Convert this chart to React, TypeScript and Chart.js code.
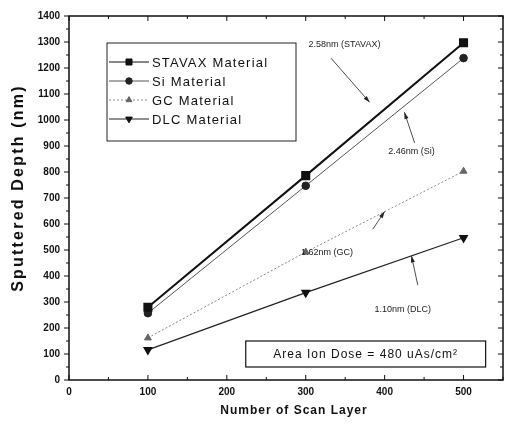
import React, { useEffect, useRef } from "react";
import { Chart, registerables } from "chart.js";
import { drawPoint } from "chart.js/helpers";

Chart.register(...registerables);

const scanLayers = [100, 300, 500];
const stavax = [280, 786, 1297];
const si = [257, 747, 1238];
const gc = [162, 492, 803];
const dlc = [116, 336, 547];

const seriesNames = ["STAVAX Material", "Si Material", "GC Material", "DLC Material"];
const xTicks = [0, 100, 200, 300, 400, 500];
const yTicks = [0, 100, 200, 300, 400, 500, 600, 700, 800, 900, 1000, 1100, 1200, 1300, 1400];

// annotations in data coordinates: label position, arrow tail, arrow head
const annotations = [
  { text: "2.58nm (STAVAX)", x: 349, y: 1290, fx: 332, fy: 1238, tx: 381, ty: 1068 },
  { text: "2.46nm (Si)", x: 434, y: 877, fx: 438, fy: 912, tx: 425, ty: 1030 },
  { text: "1.62nm (GC)", x: 327, y: 492, fx: 385, fy: 580, tx: 400, ty: 648 },
  { text: "1.10nm (DLC)", x: 423, y: 273, fx: 442, fy: 365, tx: 434, ty: 478 },
];
const doseText = "Area Ion Dose = 480 uAs/cm²";
const doseBox = { x0: 224, x1: 528, y0: 150, y1: 50 };
const xTitle = "Number of Scan Layer";
const yTitle = "Sputtered Depth (nm)";

export default function App() {
  const ref = useRef<HTMLCanvasElement | null>(null);
  useEffect(() => {
    document.body.style.margin = "0";
    const canvas = ref.current!;
    const font = "'Liberation Sans', Arial, sans-serif";

    const framePlugin = {
      id: "frame",
      afterDraw(chart: any) {
        const ctx = chart.ctx as CanvasRenderingContext2D;
        const a = chart.chartArea;
        const xs = chart.scales.x;
        const ys = chart.scales.y;
        ctx.save();
        ctx.strokeStyle = "#111";
        ctx.lineWidth = 1.5;
        ctx.strokeRect(a.left, a.top, a.right - a.left, a.bottom - a.top);
        ctx.lineWidth = 1;
        for (let v = 0; v <= 550; v += 50) {
          const px = xs.getPixelForValue(v);
          const len = v % 100 === 0 ? 5 : 3;
          ctx.beginPath();
          ctx.moveTo(px, a.bottom);
          ctx.lineTo(px, a.bottom - len);
          ctx.moveTo(px, a.top);
          ctx.lineTo(px, a.top + len);
          ctx.stroke();
        }
        for (let v = 0; v <= 1400; v += 50) {
          const py = ys.getPixelForValue(v);
          const len = v % 100 === 0 ? 5 : 3;
          ctx.beginPath();
          ctx.moveTo(a.left, py);
          ctx.lineTo(a.left - len, py);
          ctx.moveTo(a.right, py);
          ctx.lineTo(a.right - len, py);
          ctx.stroke();
        }
        // axis titles
        (ctx as any).letterSpacing = "1px";
        ctx.fillStyle = "#111";
        ctx.font = `bold 12px ${font}`;
        ctx.textAlign = "center";
        ctx.textBaseline = "middle";
        ctx.fillText(xTitle, (a.left + a.right) / 2 + 8, 411);
        ctx.save();
        ctx.translate(19, (a.top + a.bottom) / 2 - 10);
        ctx.rotate(-Math.PI / 2);
        (ctx as any).letterSpacing = "2.2px";
        ctx.font = `bold 16px ${font}`;
        ctx.fillText(yTitle, 0, 0);
        ctx.restore();

        // legend box
        const lx0 = 107, ly0 = 43, lx1 = 296, ly1 = 141;
        ctx.fillStyle = "#fff";
        ctx.fillRect(lx0, ly0, lx1 - lx0, ly1 - ly0);
        ctx.strokeStyle = "#222";
        ctx.lineWidth = 1;
        ctx.strokeRect(lx0, ly0, lx1 - lx0, ly1 - ly0);
        const rows = [62, 81, 100, 119];
        chart.data.datasets.forEach((ds: any, i: number) => {
          const y = rows[i];
          ctx.save();
          ctx.strokeStyle = ds.borderColor;
          ctx.lineWidth = Math.min(ds.borderWidth, 1.2);
          ctx.setLineDash(ds.borderDash || []);
          ctx.beginPath();
          ctx.moveTo(109, y);
          ctx.lineTo(149, y);
          ctx.stroke();
          ctx.restore();
          ctx.save();
          ctx.fillStyle = ds.pointBackgroundColor;
          ctx.strokeStyle = ds.pointBorderColor;
          ctx.lineWidth = 1;
          drawPoint(ctx, { pointStyle: ds.pointStyle, radius: ds.pointRadius * 0.85, rotation: ds.pointRotation || 0, borderWidth: 1 } as any, 129, y);
          ctx.restore();
          ctx.fillStyle = "#111";
          ctx.font = `13px ${font}`;
          (ctx as any).letterSpacing = "1.2px";
          ctx.textAlign = "left";
          ctx.textBaseline = "middle";
          ctx.fillText(seriesNames[i], 152, y + 1);
        });

        // annotations
        (ctx as any).letterSpacing = "0px";
        ctx.font = `9px ${font}`;
        ctx.fillStyle = "#222";
        ctx.strokeStyle = "#222";
        annotations.forEach((an) => {
          ctx.textAlign = "center";
          ctx.fillText(an.text, xs.getPixelForValue(an.x), ys.getPixelForValue(an.y));
          const fx = xs.getPixelForValue(an.fx), fy = ys.getPixelForValue(an.fy);
          const tx = xs.getPixelForValue(an.tx), ty = ys.getPixelForValue(an.ty);
          ctx.lineWidth = 0.8;
          ctx.beginPath();
          ctx.moveTo(fx, fy);
          ctx.lineTo(tx, ty);
          ctx.stroke();
          const ang = Math.atan2(ty - fy, tx - fx);
          const hl = 7;
          ctx.beginPath();
          ctx.moveTo(tx, ty);
          ctx.lineTo(tx - hl * Math.cos(ang - 0.3), ty - hl * Math.sin(ang - 0.3));
          ctx.lineTo(tx - hl * Math.cos(ang + 0.3), ty - hl * Math.sin(ang + 0.3));
          ctx.closePath();
          ctx.fill();
        });

        // dose box
        const bx0 = xs.getPixelForValue(doseBox.x0), bx1 = xs.getPixelForValue(doseBox.x1);
        const by0 = ys.getPixelForValue(doseBox.y0), by1 = ys.getPixelForValue(doseBox.y1);
        ctx.fillStyle = "#fff";
        ctx.fillRect(bx0, by0, bx1 - bx0, by1 - by0);
        ctx.lineWidth = 1.2;
        ctx.strokeStyle = "#111";
        ctx.strokeRect(bx0, by0, bx1 - bx0, by1 - by0);
        ctx.fillStyle = "#111";
        ctx.font = `12px ${font}`;
        (ctx as any).letterSpacing = "1px";
        ctx.textAlign = "center";
        ctx.fillText(doseText, (bx0 + bx1) / 2, (by0 + by1) / 2 + 1);
        ctx.restore();
      },
    };

    const chart = new Chart(canvas, {
      type: "line",
      data: {
        datasets: [
          {
            label: seriesNames[0],
            data: scanLayers.map((x, i) => ({ x, y: stavax[i] })),
            borderColor: "#111",
            borderWidth: 2,
            pointStyle: "rect",
            pointRadius: 5,
            pointBackgroundColor: "#111",
            pointBorderColor: "#111",
          },
          {
            label: seriesNames[1],
            data: scanLayers.map((x, i) => ({ x, y: si[i] })),
            borderColor: "#555",
            borderWidth: 1,
            pointStyle: "circle",
            pointRadius: 3.8,
            pointBackgroundColor: "#222",
            pointBorderColor: "#222",
          },
          {
            label: seriesNames[2],
            data: scanLayers.map((x, i) => ({ x, y: gc[i] })),
            borderColor: "#888",
            borderWidth: 1,
            borderDash: [2, 2],
            pointStyle: "triangle",
            pointRadius: 4,
            pointBackgroundColor: "#666",
            pointBorderColor: "#666",
          },
          {
            label: seriesNames[3],
            data: scanLayers.map((x, i) => ({ x, y: dlc[i] })),
            borderColor: "#222",
            borderWidth: 1.2,
            pointStyle: "triangle",
            pointRotation: 180,
            pointRadius: 4.5,
            pointBackgroundColor: "#111",
            pointBorderColor: "#111",
          },
        ] as any,
      },
      options: {
        animation: false,
        responsive: false,
        maintainAspectRatio: false,
        layout: { padding: { top: 16, right: 5, left: 0, bottom: 0 } },
        plugins: { legend: { display: false }, tooltip: { enabled: false } },
        scales: {
          x: {
            type: "linear",
            min: 0,
            max: 550,
            afterFit: (s: any) => { s.height = 48; },
            afterBuildTicks: (s: any) => { s.ticks = xTicks.map((v) => ({ value: v })); },
            grid: { display: false, drawTicks: false },
            border: { display: false },
            ticks: { color: "#111", padding: 6, callback: (v: any) => String(v), font: { family: font, size: 10, weight: "bold" } },
          },
          y: {
            type: "linear",
            min: 0,
            max: 1400,
            afterFit: (s: any) => { s.width = 69; },
            afterBuildTicks: (s: any) => { s.ticks = yTicks.map((v) => ({ value: v })); },
            grid: { display: false, drawTicks: false },
            border: { display: false },
            ticks: { color: "#111", padding: 9, callback: (v: any) => String(v), font: { family: font, size: 10, weight: "bold" } },
          },
        },
      },
      plugins: [framePlugin],
    } as any);
    return () => chart.destroy();
  }, []);
  return (
    <div style={{ width: 510, height: 428 }}>
      <canvas ref={ref} width={510} height={428} style={{ display: "block" }} />
    </div>
  );
}
